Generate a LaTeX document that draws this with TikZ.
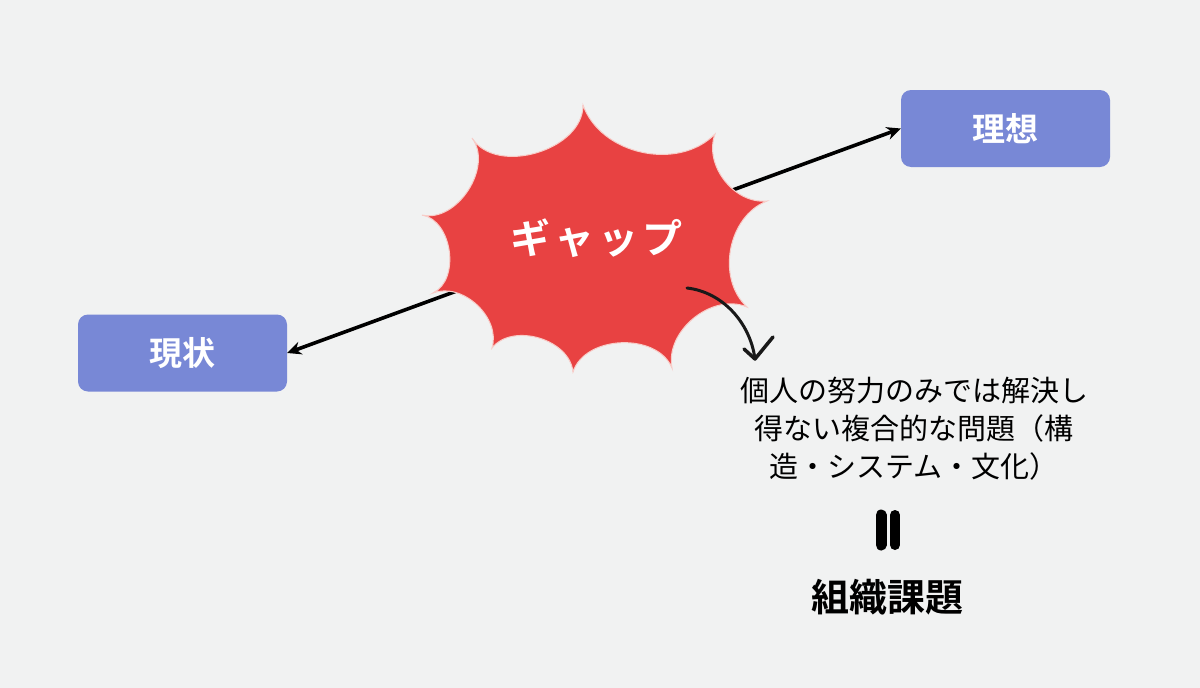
\documentclass[tikz,border=0pt]{standalone}
\usepackage{fontspec}
\newfontfamily\jp{Noto Sans CJK JP}[BoldFont={Noto Sans CJK JP Bold}]
\newfontfamily\jpgap{Noto Sans CJK JP Bold}[LetterSpace=10]
\usetikzlibrary{arrows.meta,calc}
\definecolor{bg}{RGB}{241,242,242}
\definecolor{boxblue}{RGB}{120,136,214}
\definecolor{burst}{RGB}{232,66,66}
\definecolor{burstedge}{RGB}{248,205,200}
\tikzset{
  statebox/.style={fill=boxblue, rounded corners=10pt, minimum width=209pt, minimum height=77pt,
    text=white, font=\jp\bfseries\fontsize{33}{40}\selectfont, inner sep=0pt},
  mainarrow/.style={line width=3.6pt, {Stealth[length=14pt,width=13pt]}-{Stealth[length=14pt,width=13pt]}},
  handarrow/.style={line width=3pt, line cap=round, line join=round, black!90},
}
\begin{document}
\begin{tikzpicture}[x=1pt,y=-1pt]
\fill[bg] (0,0) rectangle (1200,688);
\useasboundingbox (0,0) rectangle (1200,688);

\node[statebox] (genjo) at (182.5,353) {現状};
\node[statebox] (riso) at (1005.5,128.5) {理想};

\draw[mainarrow] (genjo.east) -- (riso.west);

% starburst
\coordinate (s1) at (583,105);
\coordinate (s2) at (715,134);
\coordinate (s3) at (767,201);
\coordinate (s4) at (747,307);
\coordinate (s5) at (672,368);
\coordinate (s6) at (573,372);
\coordinate (s7) at (492,348);
\coordinate (s8) at (433,293);
\coordinate (s9) at (422,215);
\coordinate (s10) at (472,138);
\fill[burst, draw=burstedge, line width=1pt]
  (s1) to[bend right=58] (s2) to[bend right=58] (s3) to[bend right=58] (s4)
  to[bend right=62] (s5) to[bend right=70] (s6) to[bend right=68] (s7)
  to[bend right=64] (s8) to[bend right=72] (s9) to[bend right=70] (s10)
  to[bend right=74] (s1) -- cycle;

\node[text=white, font=\jpgap\fontsize{40}{48}\selectfont] (gap) at (596,238) {ギャップ};

% hand-drawn arrow
\coordinate (ha) at (687,288);
\coordinate (hb) at (755,359);
\coordinate (hl) at (744,349);
\coordinate (hr) at (773,337);
\draw[handarrow] (ha) .. controls (722,292) and (750,322) .. (hb);
\draw[handarrow, line width=3.5pt] (hl) -- (hb) -- (hr);

\node[font=\jp\fontsize{29}{38}\selectfont, align=center, inner sep=0pt] (desc) at (914,429)
  {個人の努力のみでは解決し\\得ない複合的な問題（構\\造・システム・文化）};

\coordinate (e1a) at (881,515);
\coordinate (e1b) at (881,545);
\coordinate (e2a) at (895,515);
\coordinate (e2b) at (895,545);
\draw[line width=11pt, line cap=round] (e1a) -- (e1b);
\draw[line width=10pt, line cap=round] (e2a) -- (e2b);

\node[font=\jp\bfseries\fontsize{38}{46}\selectfont, inner sep=0pt] (kadai) at (887,597) {組織課題};
\end{tikzpicture}
\end{document}
